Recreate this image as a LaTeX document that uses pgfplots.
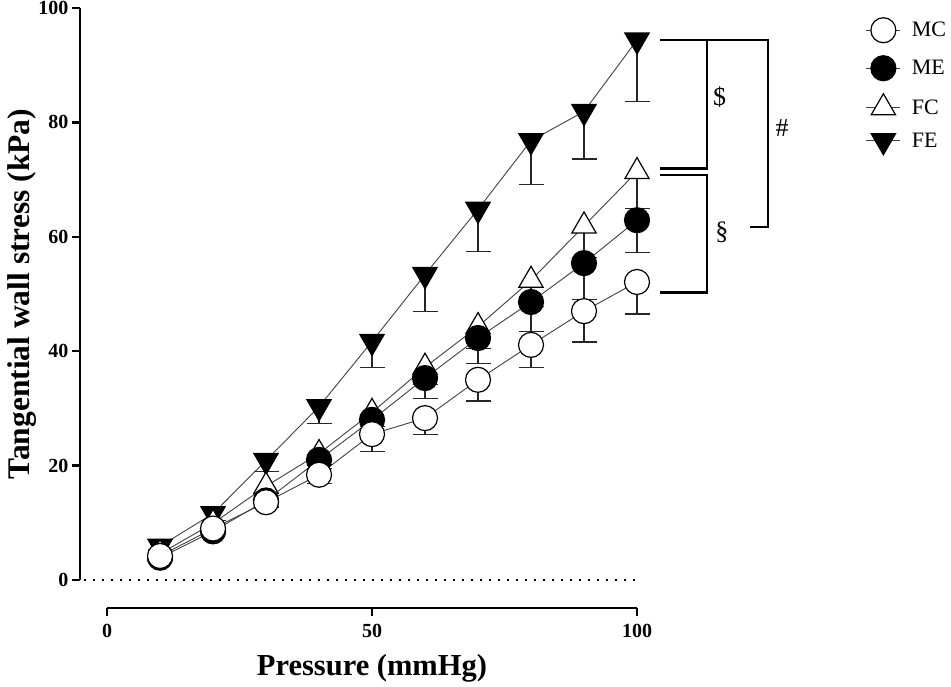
\documentclass[border=0pt]{standalone}
\usepackage{fontspec}
\setmainfont{Liberation Serif}
\usepackage{pgfplots}
\pgfplotsset{compat=1.18}
\usepackage{pgfplotstable}

\pgfplotstableread{
x   MC   MCe  ME   MEe  FC   FCe  FE   FEe
10  4.2  0.3  3.9  0.3  4.6  0.4  5.9  0.6
20  9.0  0.5  8.5  0.5  9.9  0.8  11.6 1.2
30  13.6 1.0  13.9 1.0  16.4 1.3  20.9 2.0
40  18.4 1.5  21.0 1.5  22.1 2.0  30.3 2.9
50  25.5 3.0  28.0 2.5  29.3 2.5  41.7 4.5
60  28.3 2.8  35.3 3.5  37.2 3.0  53.4 6.4
70  35.0 3.7  42.3 4.4  44.3 3.8  64.8 7.4
80  41.1 4.0  48.6 5.2  52.4 4.6  76.8 7.6
90  47.0 5.4  55.4 6.3  61.9 5.5  81.9 8.3
100 52.1 5.6  62.9 5.6  71.4 6.4  94.4 10.7
}\data

\pgfplotsset{
  ebar/.style={draw=none, mark=none, forget plot,
    error bars/.cd, y dir=minus, y explicit, error mark=|,
    error bar style={draw=black!85, line width=1.1pt},
    error mark options={draw=black!85, line width=1.1pt, mark size=12.5pt}},
  serie/.style={black!75, line width=0.9pt},
}

\begin{document}
\begin{tikzpicture}
\useasboundingbox (0,0) rectangle (951pt,686pt);
\begin{axis}[
  at={(80pt,106pt)}, anchor=south west, scale only axis,
  width=557pt, height=572pt,
  xmin=-5.1, xmax=100, ymin=0, ymax=100, clip=false,
  axis x line=none, axis y line*=left,
  y axis line style={line width=2.6pt},
  ytick={0,20,40,60,80,100},
  tick align=outside, major tick length=8pt,
  tick style={black, line width=2.5pt},
  /pgf/number format/assume math mode=true,
  yticklabel style={font=\fontsize{20}{22}\selectfont\bfseries},
  ylabel={Tangential wall stress (kPa)},
  ylabel style={at={(axis description cs:0,0.5)}, anchor=center, yshift=58pt,
    font=\fontsize{31.5}{34}\selectfont\bfseries},
  reverse legend,
  legend style={at={(1.411,0.983)}, anchor=north west, draw=none, fill=none,
    inner sep=0pt, outer sep=0pt, row sep=13pt,
    font=\fontsize{22}{24}\selectfont},
  legend cell align=left,
  legend image code/.code={\draw[mark repeat=2,mark phase=2] plot coordinates {(-17pt,0pt) (0pt,0pt) (17pt,0pt)}; \path (26pt,0pt);},
]
\addplot[forget plot, black, line width=2pt, dash pattern=on 2pt off 7pt] coordinates {(-4.3,0) (100,0)};

\addplot[ebar] table[x=x, y=FE, y error=FEe]{\data};
\addplot[ebar] table[x=x, y=FC, y error=FCe]{\data};
\addplot[ebar] table[x=x, y=ME, y error=MEe]{\data};
\addplot[ebar] table[x=x, y=MC, y error=MCe]{\data};

\addplot[serie, mark=triangle*, mark size=14pt, mark options={solid, fill=black, draw=black, line width=1.2pt, rotate=180}] table[x=x, y=FE]{\data};
\addlegendentry{FE}
\addplot[serie, mark=triangle*, mark size=14pt, mark options={solid, fill=white, draw=black, line width=1.2pt}] table[x=x, y=FC]{\data};
\addlegendentry{FC}
\addplot[serie, mark=*, mark size=12.5pt, mark options={solid, fill=black, draw=black, line width=1.2pt}] table[x=x, y=ME]{\data};
\addlegendentry{ME}
\addplot[serie, mark=*, mark size=12.5pt, mark options={solid, fill=white, draw=black, line width=1.2pt}] table[x=x, y=MC]{\data};
\addlegendentry{MC}

\draw[line width=2.8pt, line join=miter] (axis cs:104.3,94.4) -- (axis cs:124.7,94.4) -- (axis cs:124.7,61.7) -- (axis cs:121.3,61.7);
\draw[line width=2.8pt, line join=miter] (axis cs:113.2,94.4) -- (axis cs:113.2,72.0) -- (axis cs:104.3,72.0);
\draw[line width=2.8pt, line join=miter] (axis cs:104.3,70.8) -- (axis cs:113.2,70.8) -- (axis cs:113.2,50.2) -- (axis cs:104.3,50.2);
\node[font=\fontsize{26}{30}\selectfont] at (axis cs:115.6,84.4) {\$};
\node[font=\fontsize{26}{30}\selectfont] at (axis cs:116.0,60.7) {§};
\node[font=\fontsize{26}{30}\selectfont] at (axis cs:127.4,79.0) {\#};
\end{axis}

\begin{axis}[
  at={(107pt,78pt)}, anchor=south west, scale only axis,
  width=530pt, height=10pt,
  xmin=0, xmax=100, ymin=0, ymax=1,
  axis x line*=bottom, axis y line=none,
  x axis line style={line width=2.6pt},
  xtick={0,50,100},
  tick align=outside, major tick length=8pt,
  tick style={black, line width=2.5pt},
  /pgf/number format/assume math mode=true,
  xticklabel style={font=\fontsize{20}{22}\selectfont\bfseries, yshift=-5pt},
  xlabel={Pressure (mmHg)},
  xlabel style={at={(axis description cs:0.5,0)}, anchor=base, yshift=-67pt,
    font=\fontsize{30.5}{33}\selectfont\bfseries},
]
\addplot[draw=none, forget plot] coordinates {(0,0)};
\end{axis}
\end{tikzpicture}
\end{document}
